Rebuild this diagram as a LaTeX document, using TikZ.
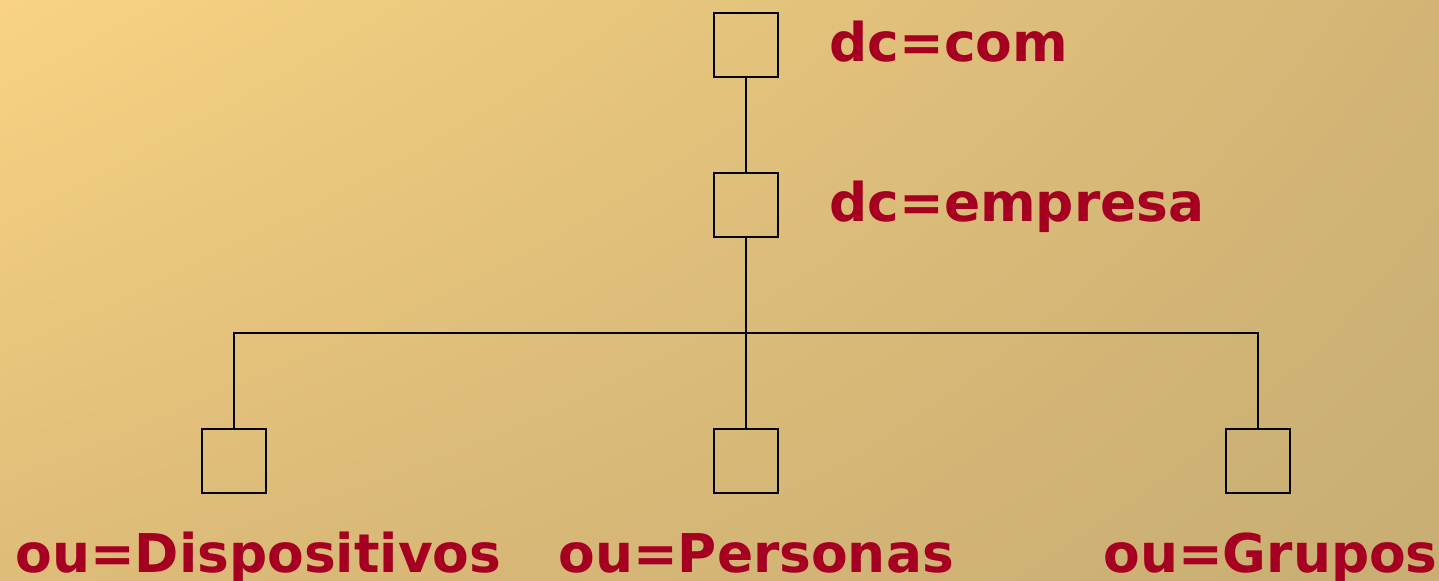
\documentclass[tikz,border=0pt]{standalone}
\usepackage{fontspec}
\setmainfont{DejaVu Sans}
\usepackage{tikz}
\usetikzlibrary{positioning, shadings}

\definecolor{ldapred}{HTML}{A50021}
\definecolor{bgtl}{RGB}{249,211,131}
\definecolor{bgtr}{RGB}{210,181,118}
\definecolor{bgbl}{RGB}{222,188,121}
\definecolor{bgbr}{RGB}{200,174,115}

\begin{document}
\begin{tikzpicture}[x=0.5pt, y=-0.5pt,
        entry/.style={rectangle, draw, line width=1pt, minimum size=32pt, inner sep=0pt},
        dn/.style={anchor=base west, inner sep=0pt, text=ldapred,
            font=\fontsize{26.7}{30}\selectfont\bfseries},
        node distance=47pt]
        % background
        \shade[upper left=bgtl, upper right=bgtr, lower left=bgbl, lower right=bgbr]
            (0,0) rectangle (1439,580);
        \useasboundingbox (0,0) rectangle (1439,580);
        % tree
        \node [entry] at (746,45) (com) {};
        \node [entry, below=of com] (empresa) {};
        \node [entry, below=95pt of empresa] (pers) {};
        \node [entry, left=223pt of pers] (disp) {};
        \node [entry, right=223pt of pers] (grup) {};
        \coordinate (bar) at (746,333);
        \draw [line width=1pt] (com) -- (empresa);
        \draw [line width=1pt] (empresa) -- (pers);
        \draw [line width=1pt] (disp) |- (bar) -| (grup);
        % names
        \node [dn] at (829,61) (lcom) {dc=com};
        \node [dn] at (829,221) (lempresa) {dc=empresa};
        \node [dn] at (15,572) (ldisp) {ou=Dispositivos};
        \node [dn] at (558,572) (lpers) {ou=Personas};
        \node [dn] at (1103,572) (lgrup) {ou=Grupos};
    \end{tikzpicture}
\end{document}
